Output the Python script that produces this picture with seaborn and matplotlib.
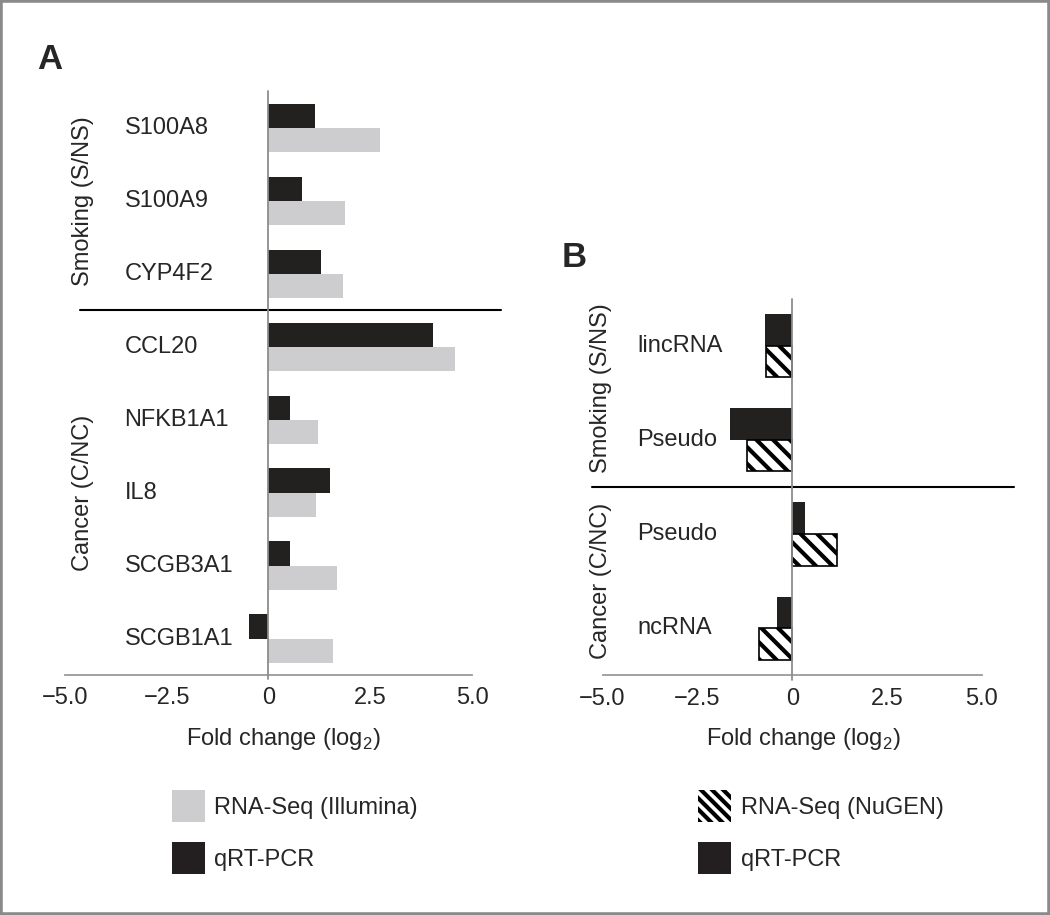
import pandas as pd
import seaborn as sns
import matplotlib.pyplot as plt
from matplotlib.patches import Patch, Rectangle

# panel A: smoking / cancer genes
genes_a = ["S100A8", "S100A9", "CYP4F2", "CCL20", "NFKB1A1", "IL8", "SCGB3A1", "SCGB1A1"]
qpcr_a = [1.15, 0.82, 1.29, 4.03, 0.52, 1.50, 0.52, -0.48]
illumina_a = [2.75, 1.87, 1.84, 4.58, 1.21, 1.17, 1.68, 1.59]
groups_a = ["Smoking (S/NS)", "Cancer (C/NC)"]

# panel B: RNA classes
classes_b = ["lincRNA", "Pseudo", "Pseudo ", "ncRNA"]
qpcr_b = [-0.72, -1.63, 0.34, -0.41]
nugen_b = [-0.70, -1.19, 1.19, -0.87]
groups_b = ["Smoking (S/NS)", "Cancer (C/NC)"]

xticks = [-5.0, -2.5, 0, 2.5, 5.0]
xticklabels = ["\u22125.0", "\u22122.5", "0", "2.5", "5.0"]

GRAY = "#cdcdcf"
BLACK = "#231f20"
AXGRAY = "#9a9a9a"

sns.set_style("white")
plt.rcParams["font.family"] = ["Liberation Sans", "DejaVu Sans"]
plt.rcParams["mathtext.fontset"] = "custom"
plt.rcParams["mathtext.rm"] = "Liberation Sans"
plt.rcParams["hatch.linewidth"] = 3.0
FS = 17

df_a = pd.DataFrame({
    "gene": genes_a * 2,
    "fc": qpcr_a + illumina_a,
    "method": ["qRT-PCR"] * len(genes_a) + ["RNA-Seq (Illumina)"] * len(genes_a),
})
df_b = pd.DataFrame({
    "gene": classes_b * 2,
    "fc": qpcr_b + nugen_b,
    "method": ["qRT-PCR"] * len(classes_b) + ["RNA-Seq (NuGEN)"] * len(classes_b),
})

fig = plt.figure(figsize=(10.5, 9.15), dpi=100)
ax_a = fig.add_axes([0.0619, 0.2623, 0.4167, 0.6380])
ax_b = fig.add_axes([0.5630, 0.2620, 0.4047, 0.4117])

sns.barplot(data=df_a, y="gene", x="fc", hue="method", order=genes_a,
            hue_order=["qRT-PCR", "RNA-Seq (Illumina)"],
            palette=[BLACK, GRAY], width=0.66, orient="h",
            linewidth=0, ax=ax_a, legend=False)
sns.barplot(data=df_b, y="gene", x="fc", hue="method", order=classes_b,
            hue_order=["qRT-PCR", "RNA-Seq (NuGEN)"],
            palette=[BLACK, "white"], width=0.67, orient="h",
            linewidth=0, ax=ax_b, legend=False)
for p in ax_b.containers[1]:
    p.set_hatch("\\\\")
    p.set_edgecolor("black")
    p.set_linewidth(1.2)

def style(ax, labels, xlim, label_x, group_x, groups, group_rows, sep, sep_span):
    n = len(labels)
    ax.set_xlim(*xlim)
    ax.set_ylim(n - 0.5, -0.5)
    for s in ["left", "top", "right"]:
        ax.spines[s].set_visible(False)
    ax.spines["bottom"].set_color(AXGRAY)
    ax.spines["bottom"].set_linewidth(1.3)
    ax.spines["bottom"].set_bounds(-5, 5)
    ax.set_xticks(xticks, xticklabels)
    ax.tick_params(axis="x", direction="in", length=5, width=1.3, color=AXGRAY,
                   labelsize=FS, pad=9)
    ax.set_yticks([])
    ax.set_ylabel("")
    ax.set_xlabel("Fold change (log$_2$)", fontsize=FS, labelpad=12)
    ax.plot([0, 0], [-0.5, n - 0.45], color="#8c8c8c", lw=1.3, clip_on=False, zorder=3)
    ax.plot(sep_span, [sep, sep], color="black", lw=1.5, clip_on=False)
    for i, g in enumerate(labels):
        ax.text(label_x, i, g.strip(), fontsize=FS, ha="left", va="center")
    for g, r in zip(groups, group_rows):
        ax.text(group_x, r, g, fontsize=FS, ha="center", va="center", rotation=90)

style(ax_a, genes_a, (-5.0, 5.75), -3.54, -4.55, groups_a, [1, 5], 2.5, [-4.62, 5.71])
style(ax_b, classes_b, (-5.3, 5.9), -4.08, -5.03, groups_b, [0.45, 2.5], 1.5, [-5.27, 5.85])

fig.text(0.035, 0.925, "A", fontsize=25, fontweight="bold")
fig.text(0.535, 0.708, "B", fontsize=25, fontweight="bold")

leg_kw = dict(loc="upper left", frameon=False, fontsize=FS, handlelength=1.4,
              handleheight=1.71, handletextpad=0.4, labelspacing=0.85,
              borderpad=0, borderaxespad=0)
fig.legend(handles=[Patch(facecolor=GRAY, lw=0, label="RNA-Seq (Illumina)"),
                    Patch(facecolor=BLACK, lw=0, label="qRT-PCR")],
           bbox_to_anchor=(0.1638, 0.1366), **leg_kw)
fig.legend(handles=[Patch(facecolor="white", edgecolor="black", hatch="\\\\\\", lw=0,
                          label="RNA-Seq (NuGEN)"),
                    Patch(facecolor=BLACK, lw=0, label="qRT-PCR")],
           bbox_to_anchor=(0.6648, 0.1366), **leg_kw)

fig.patches.append(Rectangle((0, 0), 1, 1, transform=fig.transFigure, fill=False,
                             ec="#8a8a8a", lw=4))

fig.savefig("out.png", dpi=100)
